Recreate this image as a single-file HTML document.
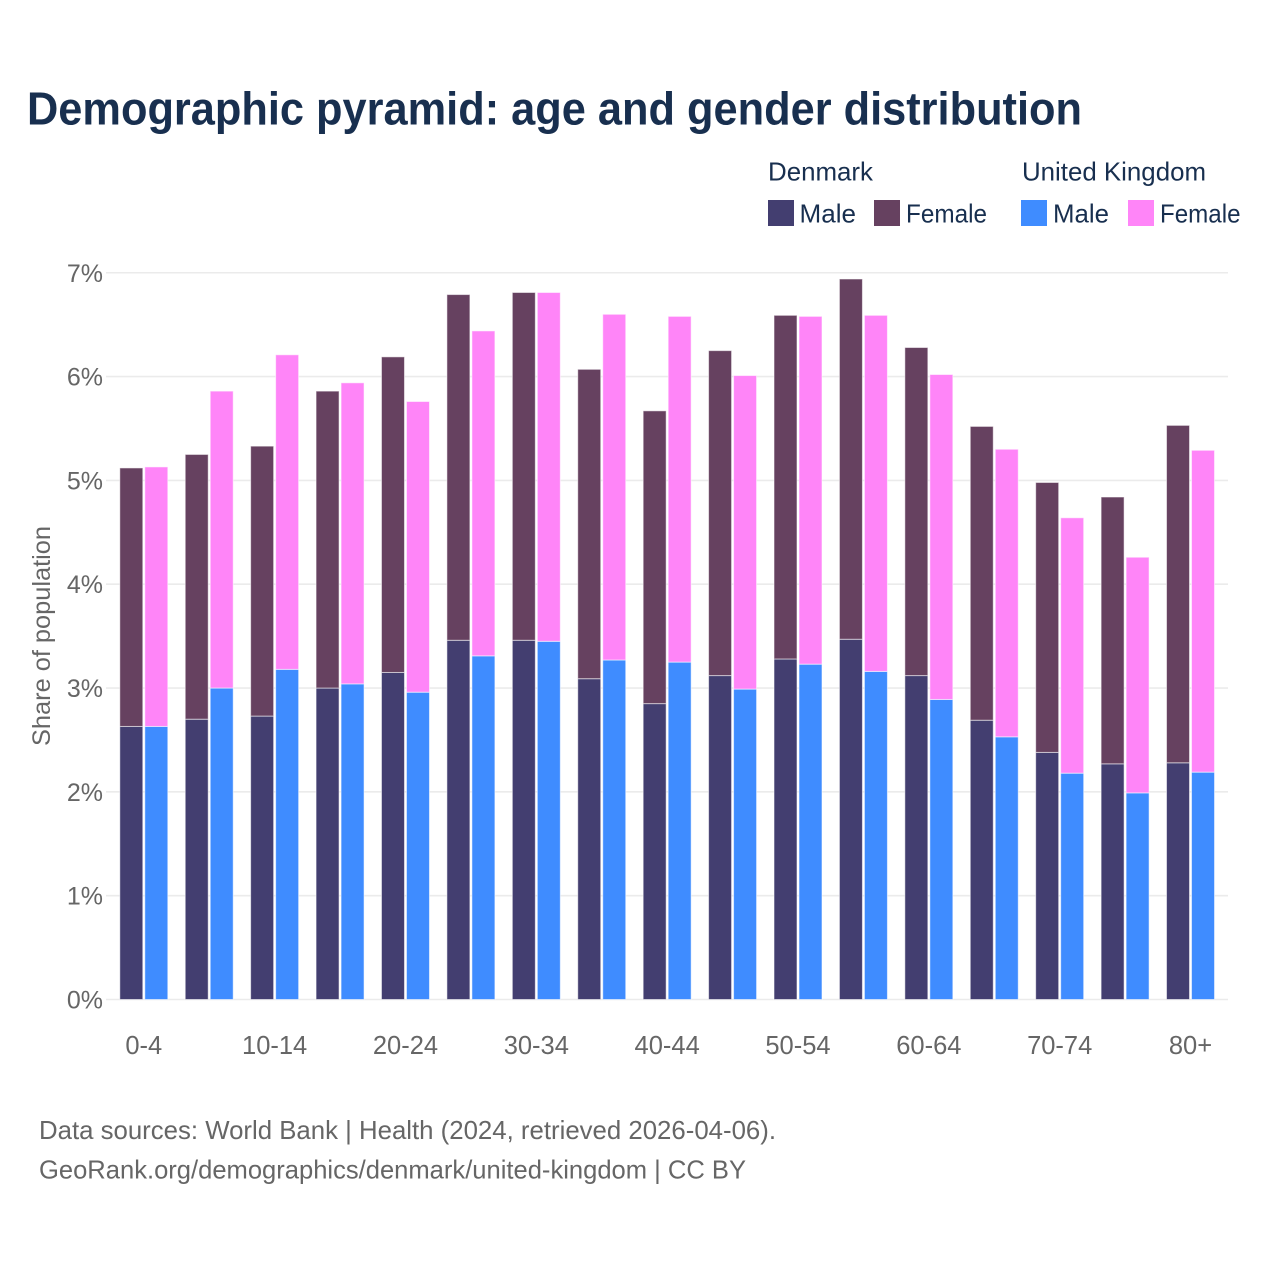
<!DOCTYPE html>
<html lang="en">
<head>
<meta charset="utf-8">
<title>Demographic pyramid: age and gender distribution</title>
<style>
html,body{margin:0;padding:0;background:#fff;width:1280px;height:1280px;overflow:hidden}
svg{display:block}
text{font-family:"Liberation Sans",sans-serif}
</style>
</head>
<body>
<svg id="chart" width="1280" height="1280" viewBox="0 0 1280 1280" xmlns="http://www.w3.org/2000/svg">
  <rect width="1280" height="1280" fill="#fff"/>
  <text x="27" y="124.5" font-size="46" font-weight="700" fill="#182f4f" textLength="1055" lengthAdjust="spacingAndGlyphs">Demographic pyramid: age and gender distribution</text>

  <g font-size="26" fill="#182f4f">
    <text x="768" y="180.5" textLength="105" lengthAdjust="spacingAndGlyphs">Denmark</text>
    <text x="1022" y="180.5" textLength="184" lengthAdjust="spacingAndGlyphs">United Kingdom</text>
    <rect x="768" y="200" width="26" height="26" fill="#433e70"/>
    <text x="799.5" y="222.5" textLength="56.5" lengthAdjust="spacingAndGlyphs">Male</text>
    <rect x="874" y="200" width="26" height="26" fill="#664160"/>
    <text x="906" y="222.5" textLength="81" lengthAdjust="spacingAndGlyphs">Female</text>
    <rect x="1021" y="200" width="26" height="26" fill="#3f8cff"/>
    <text x="1053" y="222.5" textLength="56" lengthAdjust="spacingAndGlyphs">Male</text>
    <rect x="1128" y="200" width="26" height="26" fill="#ff85f8"/>
    <text x="1160" y="222.5" textLength="80.5" lengthAdjust="spacingAndGlyphs">Female</text>
  </g>

  <g id="grid"></g>
  <g id="bars"></g>
  <g id="yticks"></g>
  <g id="xticks"></g>

  <text transform="translate(50,636) rotate(-90)" text-anchor="middle" font-size="25" fill="#666" textLength="220" lengthAdjust="spacingAndGlyphs">Share of population</text>

  <g font-size="26" fill="#666">
    <text x="39" y="1139" textLength="737" lengthAdjust="spacingAndGlyphs">Data sources: World Bank | Health (2024, retrieved 2026-04-06).</text>
    <text x="39" y="1178.5" textLength="707" lengthAdjust="spacingAndGlyphs">GeoRank.org/demographics/denmark/united-kingdom | CC BY</text>
  </g>
</svg>
<script>
const categories = ['0-4','5-9','10-14','15-19','20-24','25-29','30-34','35-39','40-44','45-49','50-54','55-59','60-64','65-69','70-74','75-79','80+'];
const denmarkMale = [2.63,2.70,2.73,3.00,3.15,3.46,3.46,3.09,2.85,3.12,3.28,3.47,3.12,2.69,2.38,2.27,2.28];
const denmarkFemale = [2.49,2.55,2.60,2.86,3.04,3.33,3.35,2.98,2.82,3.13,3.31,3.47,3.16,2.83,2.60,2.57,3.25];
const ukMale = [2.63,3.00,3.18,3.04,2.96,3.31,3.45,3.27,3.25,2.99,3.23,3.16,2.89,2.53,2.18,1.99,2.19];
const ukFemale = [2.50,2.86,3.03,2.90,2.80,3.13,3.36,3.33,3.33,3.02,3.35,3.43,3.13,2.77,2.46,2.27,3.10];
const yTickValues = [0,1,2,3,4,5,6,7];
const xTickLabels = ['0-4','10-14','20-24','30-34','40-44','50-54','60-64','70-74','80+'];

const NS = 'http://www.w3.org/2000/svg';
const plot = {left:106, right:1228, bottom:999.5, perUnit:103.82, firstCenter:143.8, step:65.42, barWidth:23, gap:2};
const yScale = v => plot.bottom - v * plot.perUnit;
const xCenter = i => plot.firstCenter + i * plot.step;

function make(tag, attrs, parent, content) {
  const el = document.createElementNS(NS, tag);
  for (const k in attrs) el.setAttribute(k, attrs[k]);
  if (content !== undefined) el.textContent = content;
  parent.appendChild(el);
  return el;
}

const gridG = document.getElementById('grid');
const yG = document.getElementById('yticks');
yTickValues.forEach(v => {
  const line = make('line', {x1:plot.left, x2:plot.right, y1:yScale(v), y2:yScale(v), stroke:'#ebebeb', 'stroke-width':1.6}, gridG);
  
  
  const label = make('text', {x:103, y:yScale(v) + 9, 'text-anchor':'end', 'font-size':25, fill:'#666'}, yG, v + '%');
  
  
});

const barsG = document.getElementById('bars');
function drawBar(x, base, value, color, name) {
  const top = yScale(base + value);
  const bar = make('rect', {x:x, y:top, width:plot.barWidth, height:yScale(base) - top, fill:color, stroke:'#fff', 'stroke-opacity':0.55, 'stroke-width':1}, barsG);
  
  
}
categories.forEach((c, i) => {
  const center = xCenter(i);
  const dkX = center - plot.gap / 2 - plot.barWidth;
  const ukX = center + plot.gap / 2;
  drawBar(dkX, 0, denmarkMale[i], '#433e70', 'bar-denmark-male');
  drawBar(dkX, denmarkMale[i], denmarkFemale[i], '#664160', 'bar-denmark-female');
  drawBar(ukX, 0, ukMale[i], '#3f8cff', 'bar-uk-male');
  drawBar(ukX, ukMale[i], ukFemale[i], '#ff85f8', 'bar-uk-female');
});

const xG = document.getElementById('xticks');
xTickLabels.forEach(t => {
  const i = categories.indexOf(t);
  const label = make('text', {x:xCenter(i), y:1054, 'text-anchor':'middle', 'font-size':25.5, fill:'#666'}, xG, t);
  
  
});
</script>
</body>
</html>
